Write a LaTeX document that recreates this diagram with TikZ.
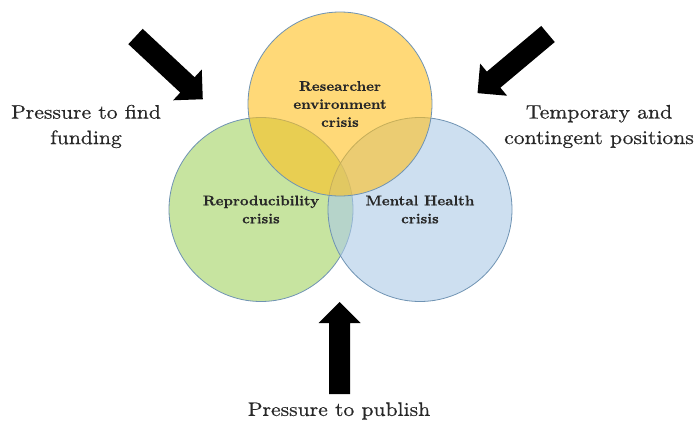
\documentclass[tikz,border=0pt]{standalone}
\usepackage{fontspec}
\usepackage{xcolor}
\newfontfamily\labelfont{lmroman10-regular}[Extension=.otf, FakeStretch=1.11, FakeBold=0.6]
\newfontfamily\crisisfont{lmroman10-bold}[Extension=.otf, FakeStretch=1.06, FakeBold=0.5]
\definecolor{envfill}{RGB}{255,192,30}
\definecolor{repfill}{RGB}{163,210,97}
\definecolor{mhfill}{RGB}{172,202,230}
\definecolor{ringline}{RGB}{111,147,179}
\definecolor{labeltext}{RGB}{40,40,40}
\begin{document}
\begin{tikzpicture}[x=1pt,y=-1pt,
  crisis/.style={circle, minimum size=184pt, inner sep=0pt, draw=ringline,
    line width=0.8pt, fill opacity=0.6, text opacity=1, align=center,
    text=labeltext, font=\crisisfont\fontsize{14}{18}\selectfont},
  pressure/.style={align=center, text=labeltext, inner sep=0pt,
    font=\labelfont\fontsize{19.5}{25.5}\selectfont},
  pics/fatarrow/.style={code={
    \fill[black] (0,-10.5) -- (71,-10.5) -- (71,-21) -- (92,0)
      -- (71,21) -- (71,10.5) -- (0,10.5) -- cycle;}}]
\useasboundingbox (0,0) rectangle (696,423);
\fill[white] (0,0) rectangle (696,423);

% the three overlapping crises
\node[crisis, fill=repfill] (rep) at (261,209.5) {Reproducibility\\crisis};
\node[crisis, fill=mhfill]  (mh)  at (420,209.5) {Mental Health\\crisis};
\node[crisis, fill=envfill] (env) at (340,104)   {Researcher\\environment\\crisis};

% pressures pushing in from outside
\coordinate (fundtail) at (135.5,36.5);
\coordinate (posttail) at (548,34);
\coordinate (pubtail)  at (339.5,394);
\pic[rotate=-43]  at (fundtail) {fatarrow};
\pic[rotate=-140] at (posttail) {fatarrow};
\pic[rotate=90]   at (pubtail)  {fatarrow};

\node[pressure] (fund) at (86,126.5)  {Pressure to find\\funding};
\node[pressure] (post) at (599,126.5) {Temporary and\\contingent positions};
\node[pressure] (pub)  at (339,411)   {Pressure to publish};
\end{tikzpicture}
\end{document}
